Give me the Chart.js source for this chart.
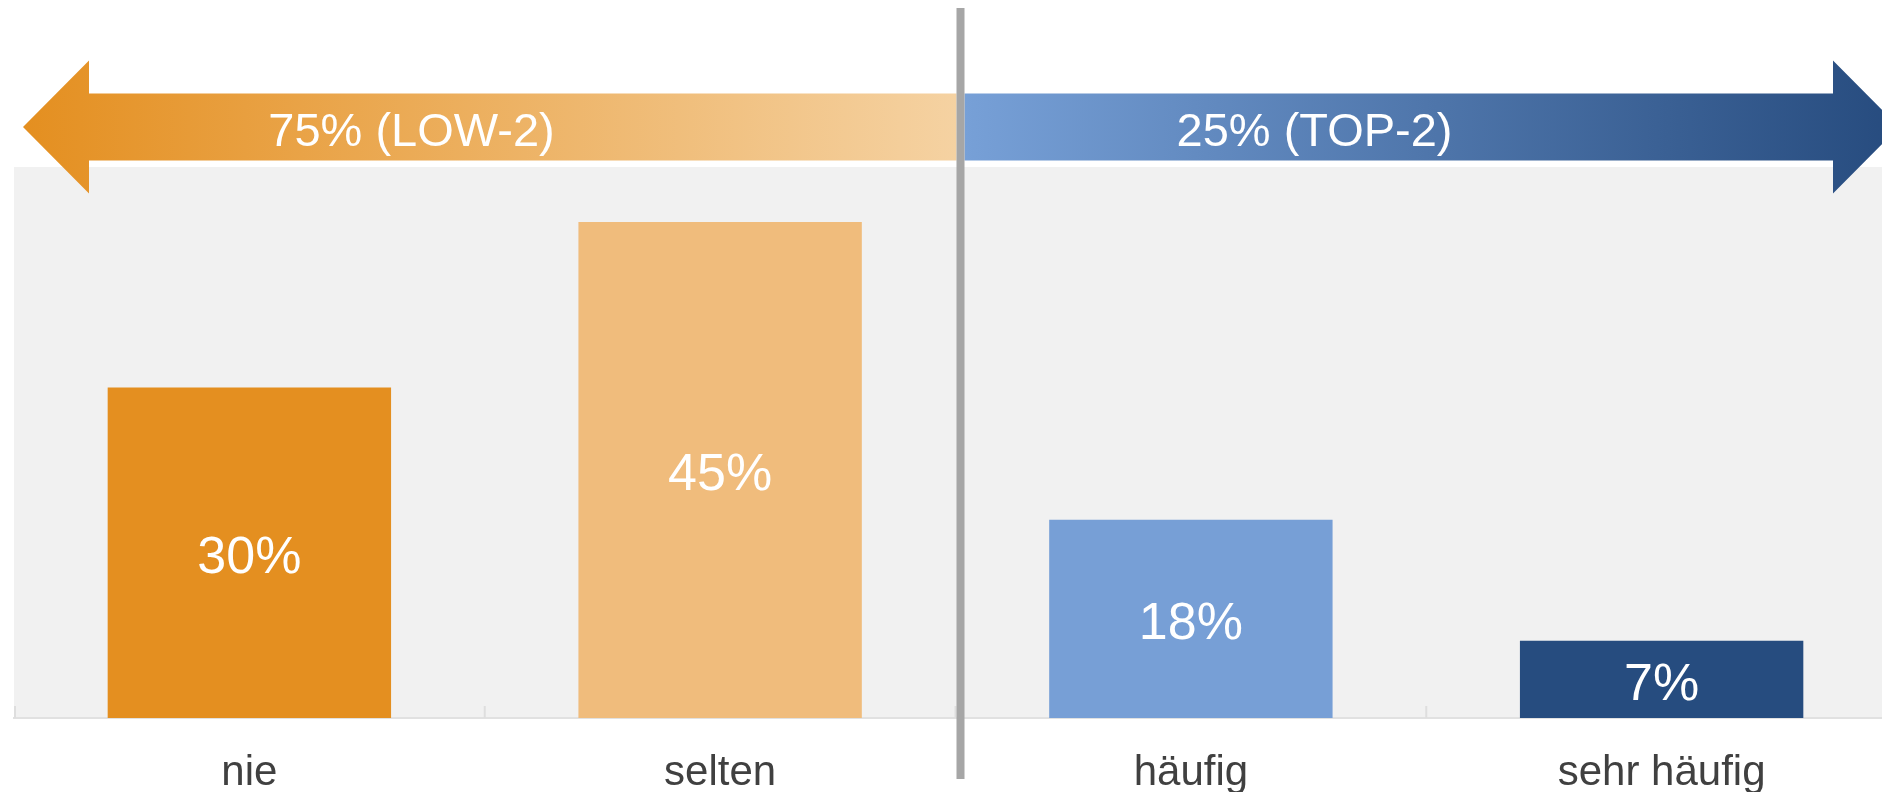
<!DOCTYPE html>
<html>
<head>
<meta charset="utf-8">
<script src="https://cdn.jsdelivr.net/npm/chart.js@4"></script>
<style>
    html, body { margin: 0; padding: 0; background: #fff; overflow: hidden; }
    /* chart is a bit wider than the window, the last category runs off the right edge like in the original */
    #wrap { position: relative; width: 1911px; height: 792px; }
</style>
</head>
<body>
<div id="wrap"><canvas id="bar-chart"></canvas></div>
<script>
var categories = ['nie', 'selten', 'häufig', 'sehr häufig'];
var shares = [30, 45, 18, 7];
var barColors = ['#E48F20', '#F0BC7C', '#779FD6', '#264C7F'];
var groupNames = ['LOW-2', 'TOP-2'];
var lowCount = 2; // first two answers form the LOW-2 group

var FONT = "'Liberation Sans', Arial, sans-serif";

function sum(arr) {
    return arr.reduce(function (a, b) { return a + b; }, 0);
}

// arrow with the head at tipX and flat end at baseX
function drawArrow(ctx, tipX, baseX, cy, grad) {
    var dir = tipX < baseX ? -1 : 1;
    var headW = 66, headH = 66.5, shaftH = 33.5;
    var neckX = tipX - dir * headW;
    ctx.beginPath();
    ctx.moveTo(tipX, cy);
    ctx.lineTo(neckX, cy - headH);
    ctx.lineTo(neckX, cy - shaftH);
    ctx.lineTo(baseX, cy - shaftH);
    ctx.lineTo(baseX, cy + shaftH);
    ctx.lineTo(neckX, cy + shaftH);
    ctx.lineTo(neckX, cy + headH);
    ctx.closePath();
    ctx.fillStyle = grad;
    ctx.fill();
}

var decorPlugin = {
    id: 'decor',
    beforeDraw: function (chart) {
        var a = chart.chartArea, ctx = chart.ctx;
        ctx.save();
        ctx.fillStyle = '#F1F1F1';
        ctx.fillRect(a.left, a.top, a.right - a.left, a.bottom - a.top);
        ctx.restore();
    },
    afterDraw: function (chart) {
        var a = chart.chartArea, ctx = chart.ctx;
        var xs = chart.scales.x;
        var n = categories.length;

        // small tick marks between the categories, pointing up
        ctx.save();
        ctx.strokeStyle = '#DEDEDE';
        ctx.lineWidth = 2;
        for (var i = 0; i <= n; i++) {
            var tx;
            if (i === 0) tx = a.left + 1;
            else if (i === n) tx = a.right - 1;
            else tx = (xs.getPixelForValue(i - 1) + xs.getPixelForValue(i)) / 2;
            ctx.beginPath();
            ctx.moveTo(tx, a.bottom - 12);
            ctx.lineTo(tx, a.bottom);
            ctx.stroke();
        }
        ctx.restore();

        // value labels in the middle of the bars
        ctx.save();
        ctx.fillStyle = '#FFFFFF';
        ctx.font = '52px ' + FONT;
        ctx.textAlign = 'center';
        ctx.textBaseline = 'middle';
        chart.getDatasetMeta(0).data.forEach(function (bar, idx) {
            ctx.fillText(shares[idx] + '%', bar.x, (bar.y + bar.base) / 2 + 6);
        });
        ctx.restore();

        // split line between LOW-2 and TOP-2
        var divX = (xs.getPixelForValue(lowCount - 1) + xs.getPixelForValue(lowCount)) / 2 + 5;
        var cy = a.top - 40;

        ctx.save();
        var leftTip = a.left + 9;
        var g1 = ctx.createLinearGradient(leftTip, 0, divX - 4, 0);
        g1.addColorStop(0, '#E48F20');
        g1.addColorStop(1, '#F5D2A2');
        drawArrow(ctx, leftTip, divX - 4, cy, g1);

        var rightTip = a.right + 2;
        var g2 = ctx.createLinearGradient(divX + 4, 0, rightTip, 0);
        g2.addColorStop(0, '#77A0D7');
        g2.addColorStop(1, '#264B7E');
        drawArrow(ctx, rightTip, divX + 4, cy, g2);

        ctx.fillStyle = '#FFFFFF';
        ctx.font = '47px ' + FONT;
        ctx.textAlign = 'center';
        ctx.textBaseline = 'middle';
        var lowTotal = sum(shares.slice(0, lowCount));
        var topTotal = sum(shares.slice(lowCount));
        ctx.fillText(lowTotal + '% (' + groupNames[0] + ')', divX - 549, cy + 6);
        ctx.fillText(topTotal + '% (' + groupNames[1] + ')', divX + 354, cy + 6);

        ctx.fillStyle = '#A6A6A6';
        ctx.fillRect(divX - 4, 8, 8, 771);
        ctx.restore();
    }
};

var ctx = document.getElementById('bar-chart').getContext('2d');
var chart = new Chart(ctx, {
    type: 'bar',
    data: {
        labels: categories,
        datasets: [{
            data: shares,
            backgroundColor: barColors,
            borderWidth: 0,
            categoryPercentage: 1,
            barPercentage: 0.602
        }]
    },
    options: {
        responsive: true,
        maintainAspectRatio: false,
        animation: false,
        layout: {
            padding: { top: 167, left: 14, right: 14, bottom: 0 }
        },
        scales: {
            x: {
                grid: { display: true, drawOnChartArea: false, drawTicks: false },
                border: { display: true, color: '#E1E1E1', width: 2 },
                ticks: {
                    color: '#404040',
                    font: { family: FONT, size: 42 },
                    padding: 30
                },
                afterFit: function (axis) {
                    axis.height = 74;
                }
            },
            y: {
                display: false,
                min: 0,
                max: 50
            }
        },
        plugins: {
            legend: { display: false },
            tooltip: { enabled: false }
        }
    },
    plugins: [decorPlugin]
});
</script>
</body>
</html>
